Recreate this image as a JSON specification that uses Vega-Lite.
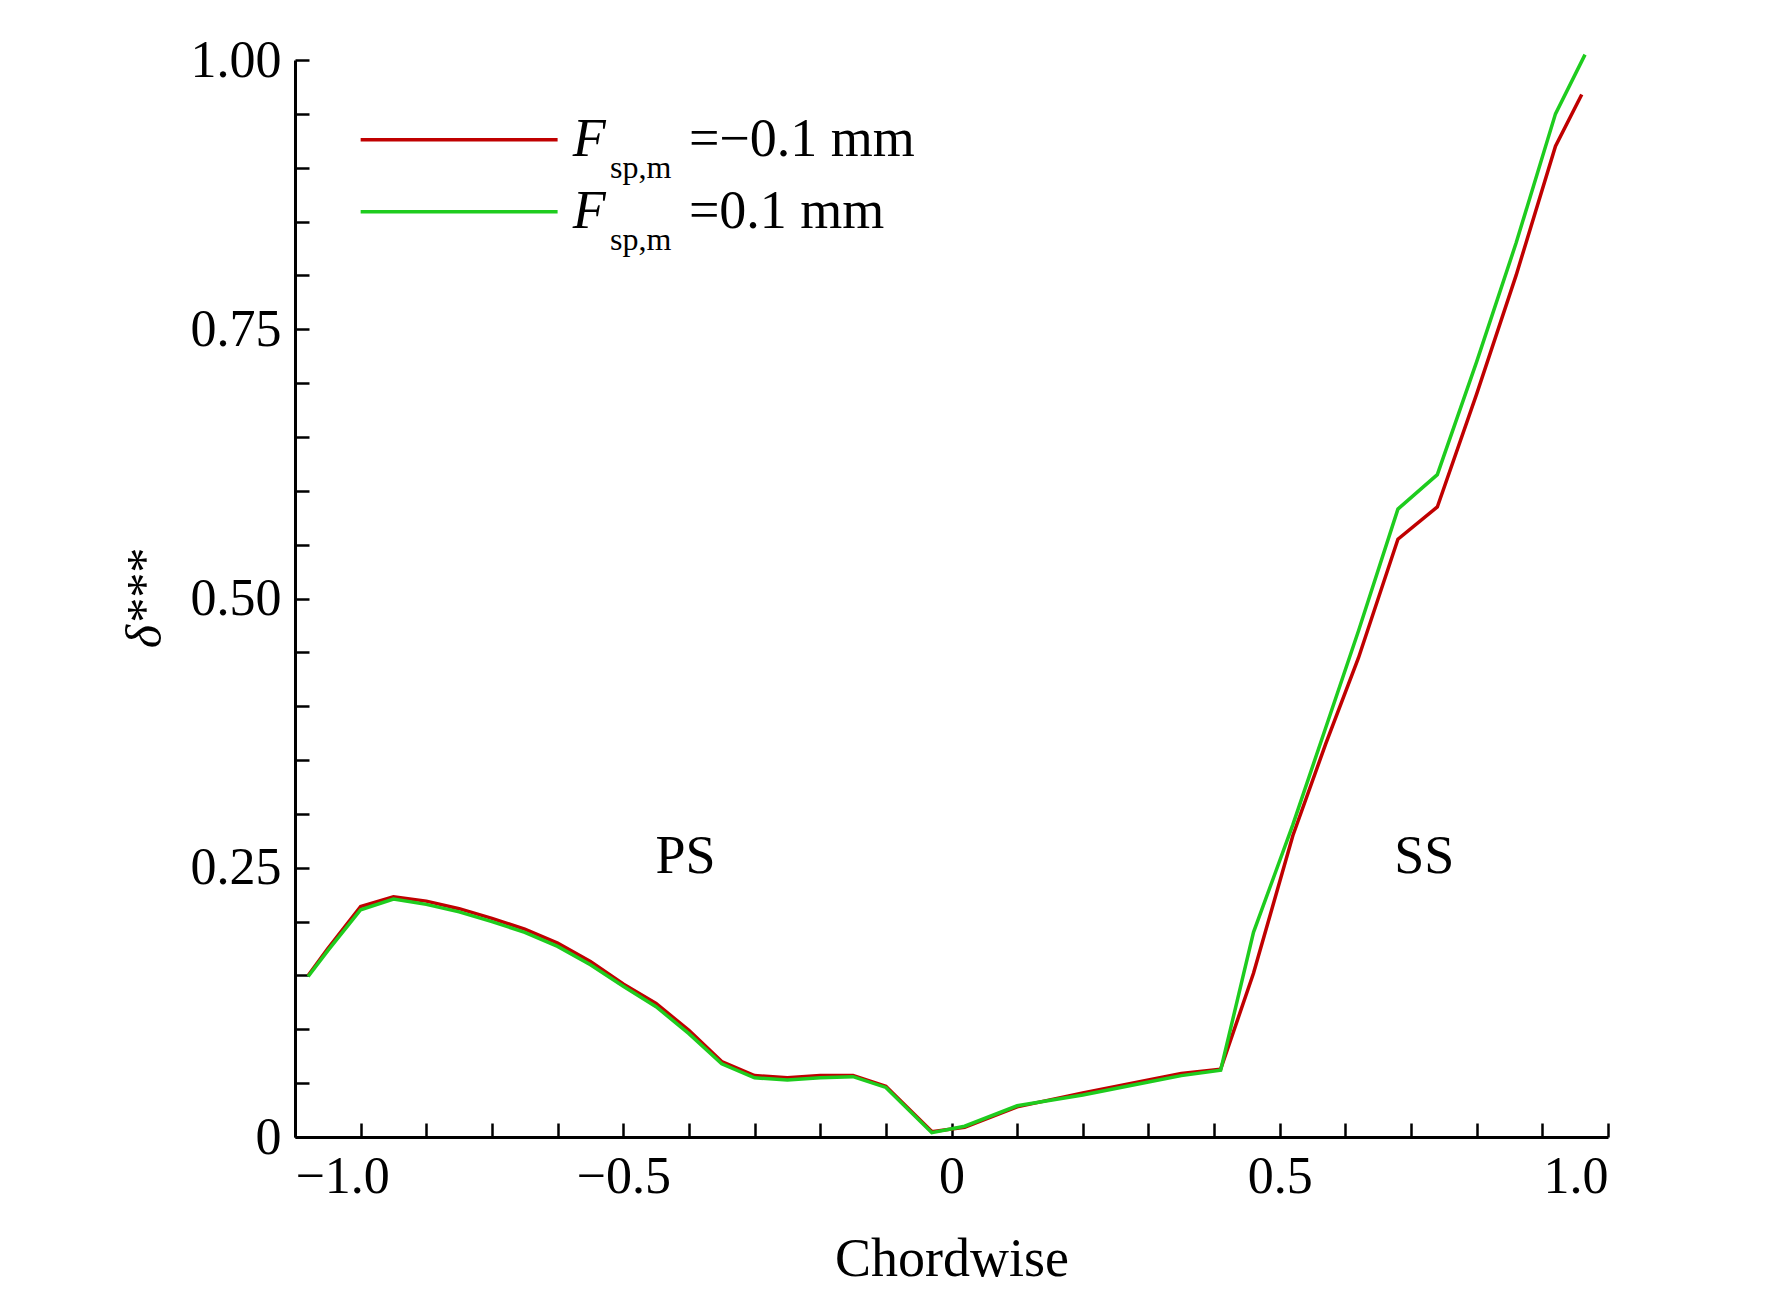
{
"$schema":"https://vega.github.io/schema/vega-lite/v6.json",
"width":1313,"height":1077,
"padding":{"left":120,"top":34,"right":20,"bottom":10},
"background":"white",
"config":{"view":{"stroke":null},"font":"Liberation Serif"},
"resolve":{"scale":{"x":"shared","y":"shared"}},
"datasets":{
"lines":[
{"x":-0.98,"y":0.15,"s":"a"},{"x":-0.95,"y":0.175,"s":"a"},{"x":-0.9,"y":0.214,"s":"a"},{"x":-0.85,"y":0.223,"s":"a"},{"x":-0.8,"y":0.219,"s":"a"},{"x":-0.75,"y":0.212,"s":"a"},{"x":-0.7,"y":0.203,"s":"a"},{"x":-0.65,"y":0.193,"s":"a"},{"x":-0.6,"y":0.18,"s":"a"},{"x":-0.55,"y":0.163,"s":"a"},{"x":-0.5,"y":0.142,"s":"a"},{"x":-0.45,"y":0.124,"s":"a"},{"x":-0.4,"y":0.099,"s":"a"},{"x":-0.35,"y":0.07,"s":"a"},{"x":-0.3,"y":0.057,"s":"a"},{"x":-0.25,"y":0.055,"s":"a"},{"x":-0.2,"y":0.057,"s":"a"},{"x":-0.15,"y":0.057,"s":"a"},{"x":-0.1,"y":0.047,"s":"a"},{"x":-0.03,"y":0.005,"s":"a"},{"x":0.02,"y":0.009,"s":"a"},{"x":0.1,"y":0.028,"s":"a"},{"x":0.2,"y":0.041,"s":"a"},{"x":0.3,"y":0.053,"s":"a"},{"x":0.35,"y":0.059,"s":"a"},{"x":0.41,"y":0.063,"s":"a"},{"x":0.46,"y":0.152,"s":"a"},{"x":0.52,"y":0.28,"s":"a"},{"x":0.57,"y":0.365,"s":"a"},{"x":0.62,"y":0.445,"s":"a"},{"x":0.68,"y":0.555,"s":"a"},{"x":0.74,"y":0.585,"s":"a"},{"x":0.8,"y":0.69,"s":"a"},{"x":0.86,"y":0.8,"s":"a"},{"x":0.92,"y":0.92,"s":"a"},{"x":0.96,"y":0.968,"s":"a"},
{"x":-0.98,"y":0.149,"s":"b"},{"x":-0.95,"y":0.173,"s":"b"},{"x":-0.9,"y":0.211,"s":"b"},{"x":-0.85,"y":0.221,"s":"b"},{"x":-0.8,"y":0.216,"s":"b"},{"x":-0.75,"y":0.209,"s":"b"},{"x":-0.7,"y":0.2,"s":"b"},{"x":-0.65,"y":0.19,"s":"b"},{"x":-0.6,"y":0.177,"s":"b"},{"x":-0.55,"y":0.16,"s":"b"},{"x":-0.5,"y":0.14,"s":"b"},{"x":-0.45,"y":0.121,"s":"b"},{"x":-0.4,"y":0.096,"s":"b"},{"x":-0.35,"y":0.068,"s":"b"},{"x":-0.3,"y":0.055,"s":"b"},{"x":-0.25,"y":0.053,"s":"b"},{"x":-0.2,"y":0.055,"s":"b"},{"x":-0.15,"y":0.056,"s":"b"},{"x":-0.1,"y":0.046,"s":"b"},{"x":-0.03,"y":0.004,"s":"b"},{"x":0.02,"y":0.01,"s":"b"},{"x":0.1,"y":0.029,"s":"b"},{"x":0.2,"y":0.039,"s":"b"},{"x":0.3,"y":0.051,"s":"b"},{"x":0.35,"y":0.057,"s":"b"},{"x":0.41,"y":0.062,"s":"b"},{"x":0.46,"y":0.19,"s":"b"},{"x":0.52,"y":0.29,"s":"b"},{"x":0.57,"y":0.38,"s":"b"},{"x":0.62,"y":0.47,"s":"b"},{"x":0.68,"y":0.583,"s":"b"},{"x":0.74,"y":0.615,"s":"b"},{"x":0.8,"y":0.72,"s":"b"},{"x":0.86,"y":0.83,"s":"b"},{"x":0.92,"y":0.95,"s":"b"},{"x":0.965,"y":1.005,"s":"b"}
],
"leg":[{"x":-0.9,"x2":-0.6,"y":0.926,"s":"a"},{"x":-0.9,"x2":-0.6,"y":0.859,"s":"b"}],
"txt":[{"x":-0.577,"y":0.926,"t":"F","k":"main"},{"x":-0.577,"y":0.859,"t":"F","k":"main"},
{"x":-0.52,"y":0.9,"t":"sp,m","k":"sub"},{"x":-0.52,"y":0.833,"t":"sp,m","k":"sub"},
{"x":-0.4,"y":0.926,"t":"=−0.1 mm","k":"main2"},{"x":-0.4,"y":0.859,"t":"=0.1 mm","k":"main2"}],
"lab":[{"x":-0.405,"y":0.26,"t":"PS"},{"x":0.72,"y":0.26,"t":"SS"}]
},
"layer":[
{"data":{"name":"lines"},"mark":{"type":"line","strokeWidth":3.5,"clip":false},
"encoding":{
"x":{"field":"x","type":"quantitative","scale":{"domain":[-1,1],"nice":false,"zero":false},
"axis":{"title":"Chordwise","values":[-1,-0.9,-0.8,-0.7,-0.6,-0.5,-0.4,-0.3,-0.2,-0.1,0,0.1,0.2,0.3,0.4,0.5,0.6,0.7,0.8,0.9,1],
"labelExpr":"datum.value==0?'0':(abs(datum.value*2-round(datum.value*2))<0.001?replace(format(datum.value,'.1f'),'-','−'):'')",
"grid":false,"domainColor":"black","domainWidth":3,"tickColor":"black","tickWidth":2.5,"tickSize":-14,
"labelFontSize":52,"labelColor":"black","labelPadding":28,"titleFontSize":54,"titleFontWeight":"normal","titleColor":"black","titlePadding":30,"labelFont":"Liberation Serif","titleFont":"Liberation Serif"}},
"y":{"field":"y","type":"quantitative","scale":{"domain":[0,1],"nice":false},
"axis":{"title":"δ***","values":[0,0.05,0.1,0.15,0.2,0.25,0.3,0.35,0.4,0.45,0.5,0.55,0.6,0.65,0.7,0.75,0.8,0.85,0.9,0.95,1],
"labelExpr":"datum.value==0?'0':(abs(datum.value*4-round(datum.value*4))<0.001?format(datum.value,'.2f'):'')",
"grid":false,"domainColor":"black","domainWidth":3,"tickColor":"black","tickWidth":2.5,"tickSize":-14,
"labelFontSize":52,"labelColor":"black","labelPadding":28,"titleFontSize":50,"titleFontStyle":"italic","titleFontWeight":"normal","titleColor":"black","titlePadding":20,"labelFont":"Liberation Serif","titleFont":"Liberation Serif"}},
"color":{"field":"s","type":"nominal","scale":{"domain":["a","b"],"range":["#c00000","#1ecc1e"]},"legend":null}}},
{"data":{"name":"leg"},"mark":{"type":"rule","strokeWidth":3.5},
"encoding":{"x":{"field":"x","type":"quantitative","scale":{"domain":[-1,1],"nice":false,"zero":false}},"x2":{"field":"x2"},"y":{"field":"y","type":"quantitative","scale":{"domain":[0,1],"nice":false}},
"color":{"field":"s","type":"nominal","scale":{"domain":["a","b"],"range":["#c00000","#1ecc1e"]},"legend":null}}},
{"data":{"name":"txt"},"transform":[{"filter":"datum.k=='main'"}],"mark":{"type":"text","align":"left","baseline":"middle","fontSize":54,"fontStyle":"italic","font":"Liberation Serif","color":"black"},
"encoding":{"x":{"field":"x","type":"quantitative","scale":{"domain":[-1,1],"nice":false,"zero":false}},"y":{"field":"y","type":"quantitative","scale":{"domain":[0,1],"nice":false}},"text":{"field":"t"}}},
{"data":{"name":"txt"},"transform":[{"filter":"datum.k=='sub'"}],"mark":{"type":"text","align":"left","baseline":"middle","fontSize":32,"font":"Liberation Serif","color":"black"},
"encoding":{"x":{"field":"x","type":"quantitative","scale":{"domain":[-1,1],"nice":false,"zero":false}},"y":{"field":"y","type":"quantitative","scale":{"domain":[0,1],"nice":false}},"text":{"field":"t"}}},
{"data":{"name":"txt"},"transform":[{"filter":"datum.k=='main2'"}],"mark":{"type":"text","align":"left","baseline":"middle","fontSize":54,"font":"Liberation Serif","color":"black"},
"encoding":{"x":{"field":"x","type":"quantitative","scale":{"domain":[-1,1],"nice":false,"zero":false}},"y":{"field":"y","type":"quantitative","scale":{"domain":[0,1],"nice":false}},"text":{"field":"t"}}},
{"data":{"name":"lab"},"mark":{"type":"text","align":"center","baseline":"middle","fontSize":54,"font":"Liberation Serif","color":"black"},
"encoding":{"x":{"field":"x","type":"quantitative","scale":{"domain":[-1,1],"nice":false,"zero":false}},"y":{"field":"y","type":"quantitative","scale":{"domain":[0,1],"nice":false}},"text":{"field":"t"}}}
]
}
